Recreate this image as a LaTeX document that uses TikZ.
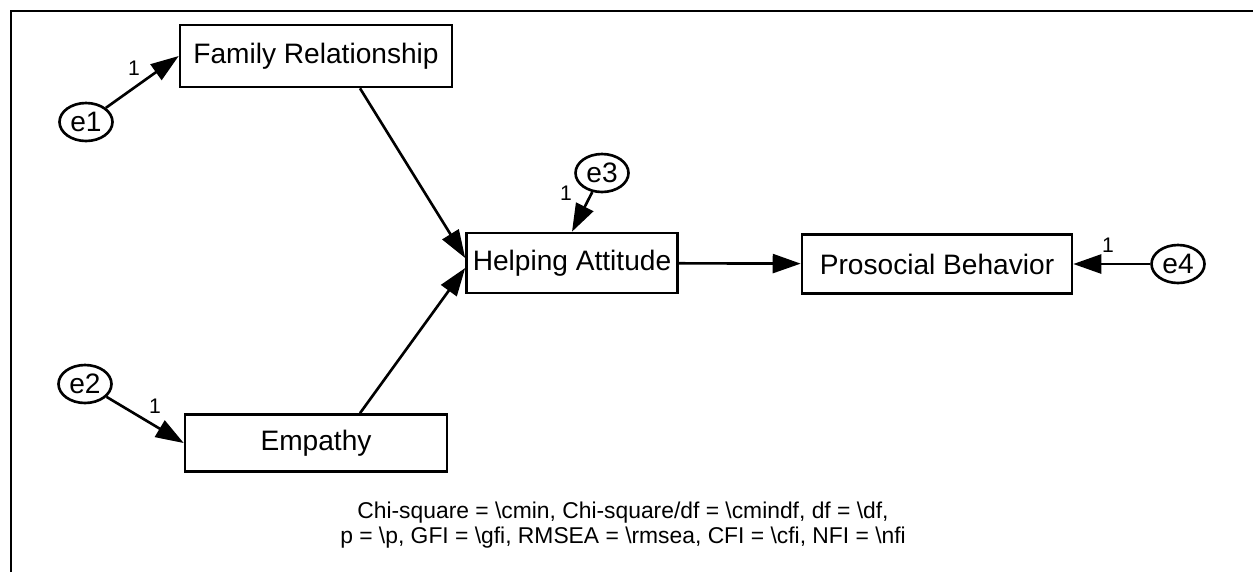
\documentclass[tikz,border=0pt]{standalone}
\usepackage{fontspec}
\setmainfont{Liberation Sans}
\usetikzlibrary{arrows.meta,shapes.geometric}

\begin{document}
\begin{tikzpicture}[x=0.02cm,y=-0.02cm,
  var/.style={draw,line width=1.5pt,inner sep=0pt,font=\fontsize{16}{19}\selectfont},
  err/.style={draw,ellipse,line width=1.5pt,inner sep=0pt,minimum width=1.06cm,minimum height=0.76cm,font=\fontsize{16}{19}\selectfont},
  lab/.style={inner sep=0pt,font=\fontsize{12}{14}\selectfont},
  arr/.style={line width=1.5pt,-{Triangle[length=0.56cm,width=0.38cm]}}]
  \useasboundingbox (0,0) rectangle (1253,572);
  \draw[line width=1.5pt] (11,572) -- (11,11) -- (1253,11);

  \node[var,minimum width=5.44cm,minimum height=1.24cm] (fr) at (316,56) {Family Relationship};
  \node[var,minimum width=5.24cm,minimum height=1.14cm] (emp) at (316,443) {Empathy};
  \node[var,minimum width=4.22cm,minimum height=1.2cm] (ha) at (572,263) {Helping Attitude};
  \node[var,minimum width=5.4cm,minimum height=1.18cm] (pb) at (937,264) {Prosocial Behavior};

  \node[err] (e1) at (86,122) {e1};
  \node[err] (e2) at (85,384) {e2};
  \node[err] (e3) at (602,173) {e3};
  \node[err] (e4) at (1178,264) {e4};

  \node[lab] (l1) at (134,68) {1};
  \node[lab] (l2) at (155,406) {1};
  \node[lab] (l3) at (566,193) {1};
  \node[lab] (l4) at (1108,245) {1};

  \draw[arr] (e1) -- (fr.west);
  \draw[arr] (e2) -- (emp.west);
  \draw[arr] (e3) -- (ha.north);
  \draw[arr] (e4) -- (pb.east);
  \draw[arr] ([xshift=0.88cm]fr.south) -- ([yshift=0.1cm]ha.west);
  \draw[arr] ([xshift=0.88cm]emp.north) -- ([yshift=-0.1cm]ha.west);
  \draw[arr] (ha) -- (pb);

  \node[align=center,inner sep=0pt,font=\fontsize{13}{14.2}\selectfont] (fit) at (623,525)
    {Chi-square = \textbackslash cmin, Chi-square/df = \textbackslash cmindf, df = \textbackslash df,\\
     p = \textbackslash p, GFI = \textbackslash gfi, RMSEA = \textbackslash rmsea, CFI = \textbackslash cfi, NFI = \textbackslash nfi};
\end{tikzpicture}
\end{document}
